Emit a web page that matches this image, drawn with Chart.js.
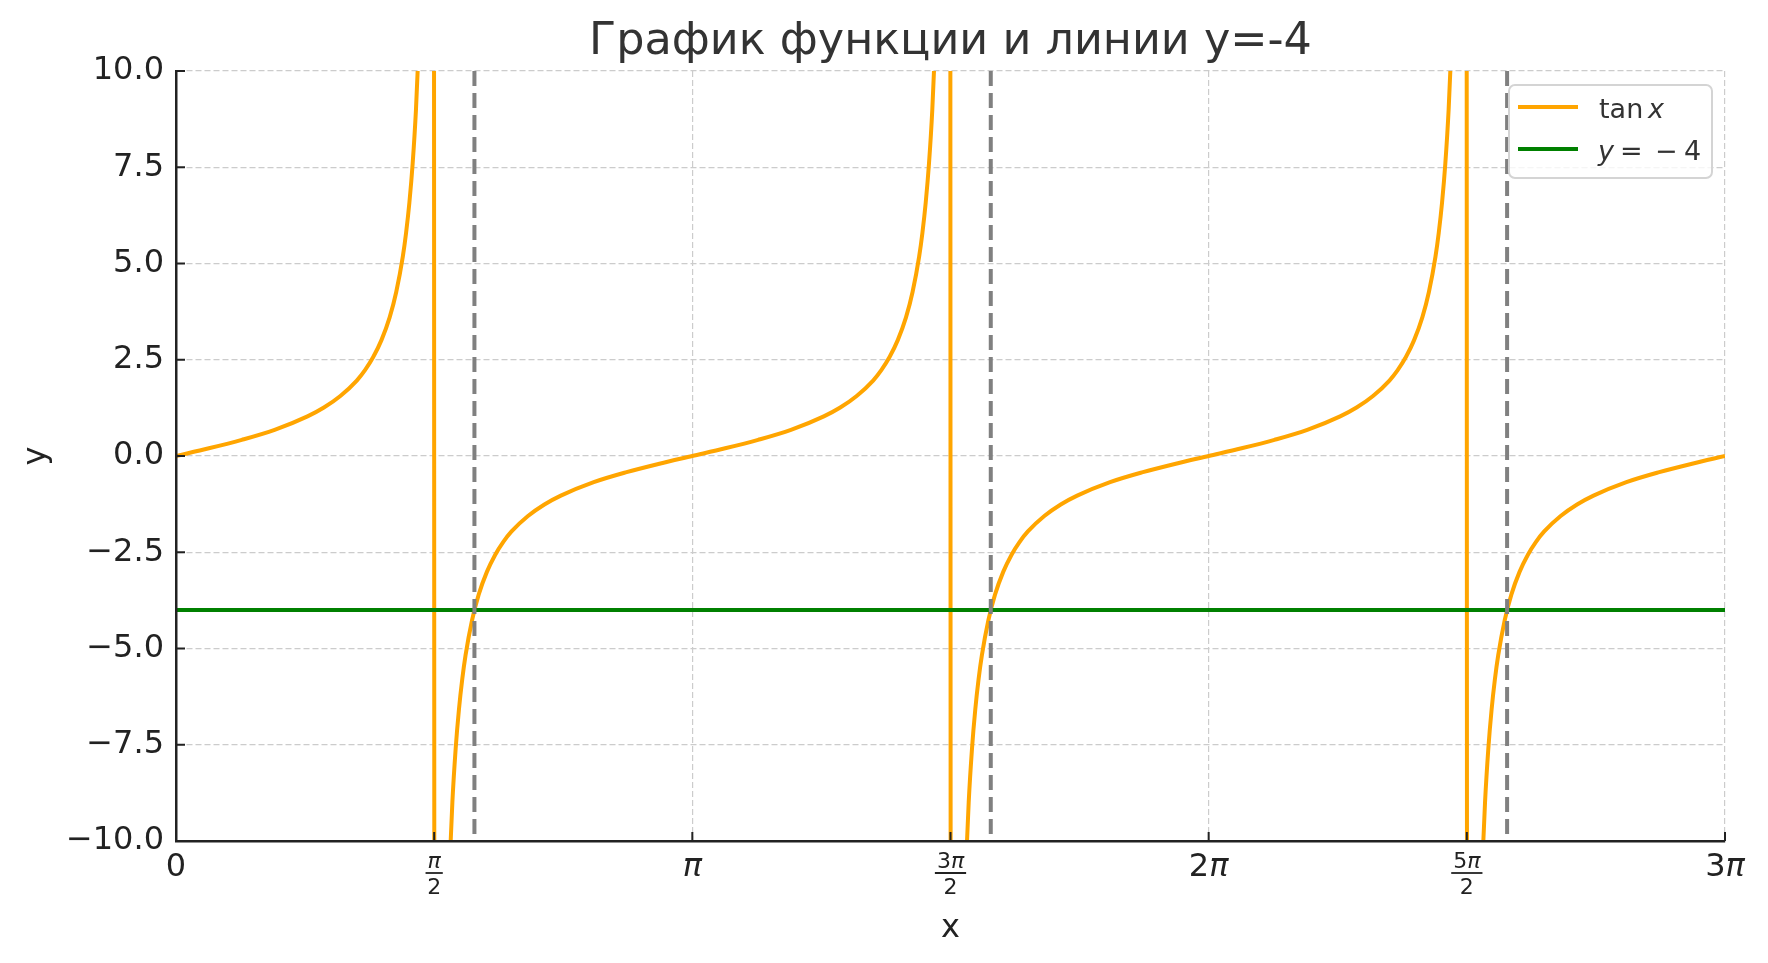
<!DOCTYPE html>
<html>
<head>
<meta charset="utf-8">
<title>График функции и линии y=-4</title>
<script src="https://cdn.jsdelivr.net/npm/chart.js@4.4.0/dist/chart.umd.min.js"></script>
<style>
    html, body { margin: 0; padding: 0; background: #ffffff; }
    #chart { display: block; }
</style>
</head>
<body>
<canvas id="chart" width="1768" height="963"></canvas>
<script>
// tan x (x in radians)
const tanX = [
    0, 0.2, 0.4, 0.6, 0.8, 0.9, 1.0, 1.1, 1.15, 1.2, 1.25, 1.3, 1.34, 1.38, 1.4, 1.42, 1.44, 1.46, 1.48, 1.52, 1.56,
    1.5816, 1.6216, 1.6616, 1.6816, 1.7016, 1.7216, 1.7416, 1.7616, 1.8016, 1.8416, 1.8916, 1.9416, 1.9916, 2.0416, 2.1416, 2.2416, 2.3416, 2.5416, 2.7416, 2.9416, 3.1416,
    3.3416, 3.5416, 3.7416, 3.9416, 4.0416, 4.1416, 4.2416, 4.2916, 4.3416, 4.3916, 4.4416, 4.4816, 4.5216, 4.5416, 4.5616, 4.5816, 4.6016, 4.6216, 4.6616, 4.7016,
    4.7232, 4.7632, 4.8032, 4.8232, 4.8432, 4.8632, 4.8832, 4.9032, 4.9432, 4.9832, 5.0332, 5.0832, 5.1332, 5.1832, 5.2832, 5.3832, 5.4832, 5.6832, 5.8832, 6.0832, 6.2832,
    6.4832, 6.6832, 6.8832, 7.0832, 7.1832, 7.2832, 7.3832, 7.4332, 7.4832, 7.5332, 7.5832, 7.6232, 7.6632, 7.6832, 7.7032, 7.7232, 7.7432, 7.7632, 7.8032, 7.8432,
    7.8648, 7.9048, 7.9448, 7.9648, 7.9848, 8.0048, 8.0248, 8.0448, 8.0848, 8.1248, 8.1748, 8.2248, 8.2748, 8.3248, 8.4248, 8.5248, 8.6248, 8.8248, 9.0248, 9.2248, 9.4248
];
const tanY = [
    0, 0.20, 0.42, 0.68, 1.03, 1.26, 1.56, 1.96, 2.23, 2.57, 3.01, 3.60, 4.26, 5.18, 5.80, 6.58, 7.60, 8.99, 10.98, 19.67, 92.6,
    -92.6, -19.67, -10.98, -8.99, -7.60, -6.58, -5.80, -5.18, -4.26, -3.60, -3.01, -2.57, -2.23, -1.96, -1.56, -1.26, -1.03, -0.68, -0.42, -0.20, 0,
    0.20, 0.42, 0.68, 1.03, 1.26, 1.56, 1.96, 2.23, 2.57, 3.01, 3.60, 4.26, 5.18, 5.80, 6.58, 7.60, 8.99, 10.98, 19.67, 92.6,
    -92.6, -19.67, -10.98, -8.99, -7.60, -6.58, -5.80, -5.18, -4.26, -3.60, -3.01, -2.57, -2.23, -1.96, -1.56, -1.26, -1.03, -0.68, -0.42, -0.20, 0,
    0.20, 0.42, 0.68, 1.03, 1.26, 1.56, 1.96, 2.23, 2.57, 3.01, 3.60, 4.26, 5.18, 5.80, 6.58, 7.60, 8.99, 10.98, 19.67, 92.6,
    -92.6, -19.67, -10.98, -8.99, -7.60, -6.58, -5.80, -5.18, -4.26, -3.60, -3.01, -2.57, -2.23, -1.96, -1.56, -1.26, -1.03, -0.68, -0.42, -0.20, 0
];

// horizontal line y = -4 across the whole x range
const lineY = -4;
const lineXRange = [0, 9.4248];

// dashed verticals where the curve meets y = -4
const crossX = [1.8158, 4.9574, 8.0990];

// axis ranges and ticks
const xRange = [0, 9.4248];
const yRange = [-10, 10];
const xTickValues = [0, 1.5708, 3.1416, 4.7124, 6.2832, 7.8540, 9.4248];
const xTickLabels = ['0', 'π/2', 'π', '3π/2', '2π', '5π/2', '3π'];
const yTickValues = [-10, -7.5, -5, -2.5, 0, 2.5, 5, 7.5, 10];

const titleText = 'График функции и линии y=-4';
const xTitle = 'x';
const yTitle = 'y';

const FONT = '"DejaVu Sans", "Liberation Sans", sans-serif';
const tanColor = '#ffa500';
const lineColor = '#008000';
const crossColor = '#808080';

function fontStr(italic, size) {
    return (italic ? 'italic ' : '') + size + 'px ' + FONT;
}

// draw a label made of upright digits and italic letters, centred on cx
function drawPieces(ctx, text, cx, base, size, color) {
    const parts = text.split('').map(ch => ({ t: ch, it: /[πxy]/.test(ch) }));
    let w = 0;
    parts.forEach(p => {
        ctx.font = fontStr(p.it, size);
        p.w = ctx.measureText(p.t).width;
        w += p.w;
    });
    let x = cx - w / 2;
    ctx.fillStyle = color;
    ctx.textAlign = 'left';
    ctx.textBaseline = 'alphabetic';
    parts.forEach(p => {
        ctx.font = fontStr(p.it, size);
        ctx.fillText(p.t, x, base);
        x += p.w;
    });
    return w;
}

function strokeLine(ctx, x1, y1, x2, y2) {
    ctx.beginPath();
    ctx.moveTo(x1, y1);
    ctx.lineTo(x2, y2);
    ctx.stroke();
}

// ticks, tick labels, titles and legend drawn matplotlib style
const decorPlugin = {
    id: 'decor',
    afterDraw(chart) {
        const ctx = chart.ctx;
        const xs = chart.scales.x;
        const ys = chart.scales.y;
        const area = chart.chartArea;
        ctx.save();

        // inward tick marks
        ctx.strokeStyle = '#222222';
        ctx.lineWidth = 2;
        xTickValues.forEach(v => {
            const p = xs.getPixelForValue(v);
            strokeLine(ctx, p, area.bottom, p, area.bottom - 9);
        });
        yTickValues.forEach(v => {
            const p = ys.getPixelForValue(v);
            strokeLine(ctx, area.left, p, area.left + 9, p);
        });

        // x tick labels, fractions stacked
        xTickLabels.forEach((lab, i) => {
            const cx = xs.getPixelForValue(xTickValues[i]);
            if (lab.includes('/')) {
                const [num, den] = lab.split('/');
                const w = drawPieces(ctx, num, cx, area.bottom + 27, 22, '#222222');
                ctx.strokeStyle = '#222222';
                ctx.lineWidth = 1.8;
                strokeLine(ctx, cx - w / 2 - 2, area.bottom + 32, cx + w / 2 + 2, area.bottom + 32);
                drawPieces(ctx, den, cx, area.bottom + 53, 22, '#222222');
            } else {
                drawPieces(ctx, lab, cx, area.bottom + 35, 32, '#222222');
            }
        });

        // title
        ctx.fillStyle = '#333333';
        ctx.font = fontStr(false, 44.5);
        ctx.textAlign = 'center';
        ctx.textBaseline = 'alphabetic';
        ctx.fillText(titleText, (area.left + area.right) / 2, 54);

        // axis titles
        ctx.fillStyle = '#222222';
        ctx.font = fontStr(false, 32);
        ctx.fillText(xTitle, (area.left + area.right) / 2, 937);
        ctx.save();
        ctx.translate(45, (area.top + area.bottom) / 2);
        ctx.rotate(-Math.PI / 2);
        ctx.fillText(yTitle, 0, 0);
        ctx.restore();

        // legend
        const bx = 1509, by = 85, bw = 203, bh = 93, r = 6;
        ctx.beginPath();
        ctx.moveTo(bx + r, by);
        ctx.arcTo(bx + bw, by, bx + bw, by + bh, r);
        ctx.arcTo(bx + bw, by + bh, bx, by + bh, r);
        ctx.arcTo(bx, by + bh, bx, by, r);
        ctx.arcTo(bx, by, bx + bw, by, r);
        ctx.closePath();
        ctx.fillStyle = 'rgba(255,255,255,0.8)';
        ctx.fill();
        ctx.strokeStyle = '#d4d4d4';
        ctx.lineWidth = 2;
        ctx.stroke();

        ctx.lineWidth = 4;
        ctx.strokeStyle = tanColor;
        strokeLine(ctx, 1518, 107, 1578, 107);
        ctx.strokeStyle = lineColor;
        strokeLine(ctx, 1518, 149, 1578, 149);

        ctx.fillStyle = '#333333';
        ctx.textAlign = 'left';
        ctx.font = fontStr(false, 27);
        ctx.fillText('tan', 1599, 118);
        ctx.font = fontStr(true, 27);
        ctx.fillText('x', 1648, 118);
        ctx.fillText('y', 1598, 160);
        ctx.font = fontStr(false, 27);
        ctx.fillText('=', 1620, 160);
        ctx.fillText('\u2212', 1655, 160);
        ctx.fillText('4', 1684, 160);

        ctx.restore();
    }
};

const tanPoints = tanX.map((x, i) => ({ x: x, y: tanY[i] }));
const linePoints = lineXRange.map(x => ({ x: x, y: lineY }));
// dashes start at the top, as matplotlib draws axvline
const crossSets = crossX.map(x => ({
    label: 'cross',
    data: [yRange[1], yRange[0]].map(y => ({ x: x, y: y })),
    borderColor: crossColor,
    borderWidth: 4,
    borderDash: [15, 7],
    order: 1,
    clip: 0
}));

const gridOpts = {
    color: '#cccccc',
    lineWidth: 1.2,
    drawTicks: false
};

new Chart(document.getElementById('chart'), {
    type: 'line',
    data: {
        datasets: [
            {
                label: 'tan x',
                data: tanPoints,
                borderColor: tanColor,
                borderWidth: 4,
                cubicInterpolationMode: 'monotone',
                order: 3,
                clip: 0
            },
            {
                label: 'y = -4',
                data: linePoints,
                borderColor: lineColor,
                borderWidth: 4,
                order: 2,
                clip: 0
            },
            ...crossSets
        ]
    },
    options: {
        responsive: false,
        animation: false,
        layout: { padding: { top: 71, right: 43, bottom: 0, left: 0 } },
        elements: {
            point: { radius: 0, hoverRadius: 0 },
            line: { capBezierPoints: false, fill: false }
        },
        plugins: {
            legend: { display: false },
            title: { display: false },
            tooltip: { enabled: false }
        },
        scales: {
            x: {
                type: 'linear',
                min: xRange[0],
                max: xRange[1],
                afterBuildTicks: s => { s.ticks = xTickValues.map(v => ({ value: v })); },
                afterFit: s => { s.height = 122; },
                ticks: { display: false },
                grid: gridOpts,
                border: { display: true, color: '#222222', width: 2.5, dash: [6, 3], z: 1 }
            },
            y: {
                type: 'linear',
                min: yRange[0],
                max: yRange[1],
                afterBuildTicks: s => { s.ticks = yTickValues.map(v => ({ value: v })); },
                afterFit: s => { s.width = 176; },
                ticks: {
                    font: { family: FONT, size: 32 },
                    color: '#222222',
                    padding: 12,
                    callback: v => v.toFixed(1).replace('-', '\u2212')
                },
                grid: gridOpts,
                border: { display: true, color: '#222222', width: 2.5, dash: [6, 3], z: 1 }
            }
        }
    },
    plugins: [decorPlugin]
});
</script>
</body>
</html>
